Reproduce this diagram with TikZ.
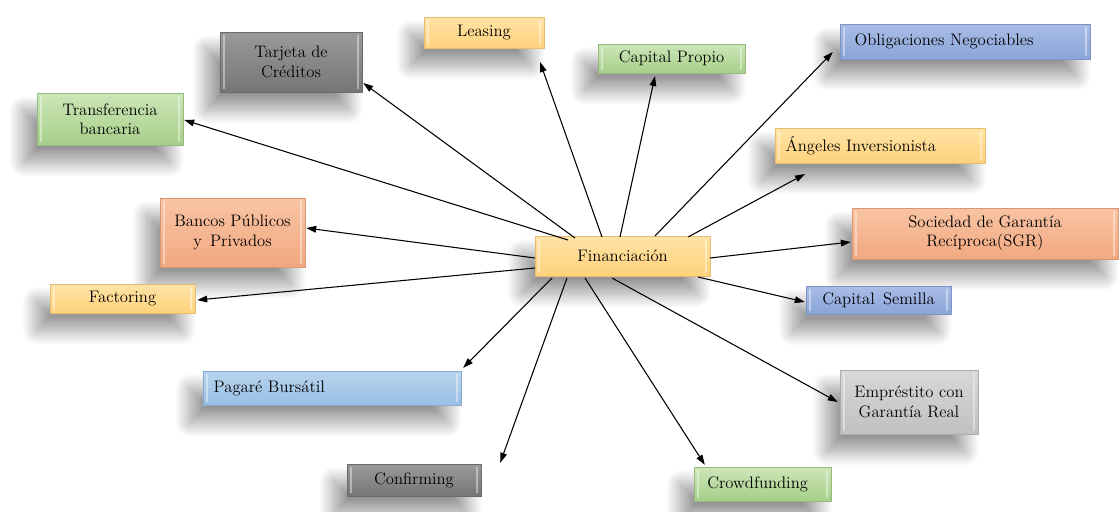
\documentclass[tikz,border=0pt]{standalone}
\usetikzlibrary{shadows.blur,arrows.meta}
\definecolor{yelT}{HTML}{FFE3A6}\definecolor{yelB}{HTML}{FFD27C}
\definecolor{grnT}{HTML}{CDE6B8}\definecolor{grnB}{HTML}{A6CF8A}
\definecolor{bluT}{HTML}{A9BDE6}\definecolor{bluB}{HTML}{8AA5D9}
\definecolor{lbuT}{HTML}{B8D4EE}\definecolor{lbuB}{HTML}{98BFE4}
\definecolor{salT}{HTML}{F8C4A4}\definecolor{salB}{HTML}{F2A880}
\definecolor{dgrT}{HTML}{9A9A9A}\definecolor{dgrB}{HTML}{767676}
\definecolor{lgrT}{HTML}{D8D8D8}\definecolor{lgrB}{HTML}{C0C0C0}
\tikzset{
  bx/.style 2 args={top color=#1, bottom color=#2, draw=#2!90!black, line width=0.3pt,
    blur shadow={shadow xshift=-10pt, shadow yshift=-13pt, shadow blur radius=11pt, shadow blur steps=40, shadow opacity=42},
    path picture={
      \draw[white, opacity=0.4, line width=1.5pt]
        ([xshift=3pt,yshift=2pt]path picture bounding box.south west) --
        ([xshift=3pt,yshift=-2pt]path picture bounding box.north west);
      \draw[white, opacity=0.4, line width=1.5pt]
        ([xshift=-3pt,yshift=2pt]path picture bounding box.south east) --
        ([xshift=-3pt,yshift=-2pt]path picture bounding box.north east);
    },
    font=\fontsize{12.5}{14.5}\selectfont, text=black, inner sep=4pt, align=center},
  yel/.style={bx={yelT}{yelB}}, grn/.style={bx={grnT}{grnB}}, blu/.style={bx={bluT}{bluB}},
  lbu/.style={bx={lbuT}{lbuB}}, sal/.style={bx={salT}{salB}}, dgr/.style={bx={dgrT}{dgrB}},
  lgr/.style={bx={lgrT}{lgrB}},
  arr/.style={-{Triangle[length=7.5pt,width=5pt]}, line width=0.8pt, black}
}
\begin{document}
\begin{tikzpicture}[x=0.75pt,y=-0.75pt]
\useasboundingbox (0,0) rectangle (1120,511);
\node[dgr, minimum width=106.5pt, minimum height=45pt] (tar) at (291,62) {Tarjeta de\\Créditos};
\node[yel, minimum width=90pt, minimum height=23.25pt] (lea) at (484,32.5) {Leasing};
\node[grn, minimum width=110.25pt, minimum height=21.75pt] (cap) at (671.5,58.5) {Capital Propio};
\node[blu, minimum width=187.5pt, minimum height=26.25pt, text width=165.5pt, inner xsep=11pt, align=left] (obl) at (965,41.5) {Obligaciones Negociables};
\node[grn, minimum width=109.5pt, minimum height=39pt] (tra) at (110,119) {Transferencia\\bancaria};
\node[yel, minimum width=157.5pt, minimum height=26.25pt, text width=141.5pt, inner xsep=8pt, align=left] (ang) at (880,145.5) {Ángeles Inversionista};
\node[sal, minimum width=108.75pt, minimum height=51.75pt] (ban) at (232.5,232.5) {Bancos Públicos\\y\, Privados};
\node[sal, minimum width=199.5pt, minimum height=38.25pt] (sgr) at (985,233.5) {Sociedad de Garantía\\Recíproca(SGR)};
\node[yel, minimum width=108.75pt, minimum height=21.75pt] (fac) at (122.5,298.5) {Factoring};
\node[blu, minimum width=108.75pt, minimum height=21pt] (sem) at (878.5,300) {Capital\, Semilla};
\node[lbu, minimum width=193.5pt, minimum height=25.5pt, text width=177.5pt, inner xsep=8pt, align=left] (pag) at (332,388) {Pagaré Bursátil};
\node[lgr, minimum width=103.5pt, minimum height=48pt] (emp) at (909,402) {Empréstito con\\Garantía Real};
\node[dgr, minimum width=100.5pt, minimum height=24pt] (con) at (414,480) {Confirming};
\node[grn, minimum width=102.75pt, minimum height=25.5pt, text width=82.75pt, inner xsep=10pt, align=left] (cro) at (762.5,484) {Crowdfunding};
\node[yel, minimum width=131.25pt, minimum height=30pt] (fin) at (622.5,256) {Financiación};
\draw[arr] ([shift={(-47.5,-18)}]fin.center) -- ([shift={(1,21)}]tar.east);
\draw[arr] ([shift={(-20.5,-19)}]fin.center) -- ([shift={(56,29.5)}]lea.center);
\draw[arr] ([shift={(-2.5,-19)}]fin.center) -- ([shift={(-16.5,17.5)}]cap.center);
\draw[arr] ([shift={(32.5,-20)}]fin.center) -- ([shift={(-7,10.5)}]obl.west);
\draw[arr] ([shift={(-54.5,-16)}]fin.center) -- ([shift={(1,1)}]tra.east);
\draw[arr] ([shift={(65.5,-19)}]fin.center) -- ([shift={(-75,28.5)}]ang.center);
\draw[arr] ([shift={(-87.5,2)}]fin.center) -- ([shift={(1,-4.5)}]ban.east);
\draw[arr] ([shift={(87.5,2)}]fin.center) -- ([shift={(-1,8.5)}]sgr.west);
\draw[arr] ([shift={(-87.5,12)}]fin.center) -- ([shift={(2,1.5)}]fac.east);
\draw[arr] ([shift={(75.5,21)}]fin.center) -- ([shift={(-1,2)}]sem.west);
\draw[arr] ([shift={(-70.5,22)}]fin.center) -- ([shift={(2,-3)}]pag.north east);
\draw[arr] ([shift={(-10.5,22)}]fin.center) -- ([shift={(-2,0)}]emp.west);
\draw[arr] ([shift={(-55.5,22)}]fin.center) -- ([shift={(19,-1)}]con.north east);
\draw[arr] ([shift={(-37.5,22)}]fin.center) -- ([shift={(11,-2)}]cro.north west);
\end{tikzpicture}
\end{document}
